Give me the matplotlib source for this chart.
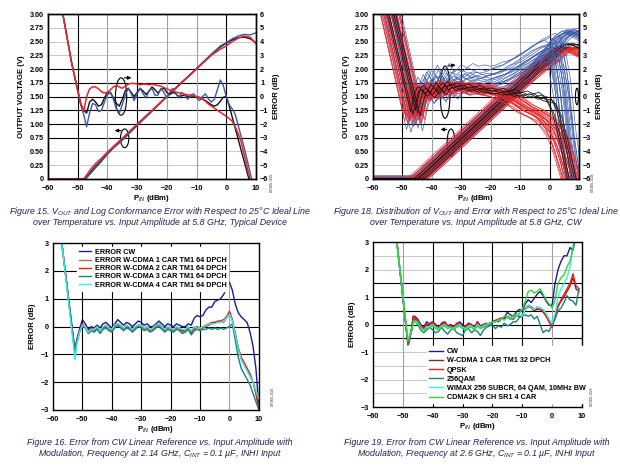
import numpy as np
import matplotlib
matplotlib.use('Agg')
import matplotlib.pyplot as plt
from matplotlib.patches import Ellipse

plt.rcParams['font.family'] = ['Liberation Sans', 'DejaVu Sans']
plt.rcParams['mathtext.fontset'] = 'custom'
plt.rcParams['mathtext.rm'] = 'Liberation Sans:bold'
plt.rcParams['mathtext.bf'] = 'Liberation Sans:bold'
plt.rcParams['mathtext.it'] = 'Liberation Sans:italic'

RED = '#e8262a'
BLUE = '#3c5aa8'
BLACK = '#111111'

# ---------------- Figure 15 data (5.8 GHz, typical device) ----------------
f15_err_x = [-55, -52, -49, -48, -47, -46, -45, -44, -43, -42,
             -41, -40, -39, -38, -37, -36, -35, -34, -33, -32,
             -31, -30, -29, -28, -27, -26, -25, -24, -23, -22,
             -21, -20, -19, -18, -17, -16, -15, -14, -13, -12,
             -11, -10, -9, -8, -7, -6, -5, -4, -3, -2,
             -1, 0, 1, 2, 3, 4, 5, 6, 7, 8,
             9]
f15_err_red = [6.0, 2.4, -0.5, -1.1, 0.0, 0.55, 0.7, 0.7, 0.55, 0.35,
               0.25, 0.3, 0.5, 0.7, 0.8, 0.7, 0.6, 0.75, 0.9, 0.95,
               0.95, 0.9, 0.85, 0.9, 0.9, 0.85, 0.9, 0.85, 0.8, 0.75,
               0.65, 0.55, 0.47, 0.4, 0.33, 0.27, 0.22, 0.17, 0.12, 0.08,
               0.04, 0.0, -0.05, -0.15, -0.35, -0.55, -0.7, -0.85, -1.0, -1.15,
               -1.3, -1.45, -1.6, -1.8, -2.2, -2.7, -3.3, -4.2, -5.1, -6.0,
               -7.0]
f15_err_black = [6.0, 2.4, -0.5, -1.0, -1.2, -0.4, -0.2, -0.4, -0.7, -0.6,
                 -0.1, 0.3, 0.3, -0.1, -0.5, -0.7, -0.2, 0.4, 0.6, 0.3,
                 0.0, 0.3, 0.6, 0.4, 0.15, 0.4, 0.7, 0.5, 0.25, 0.5,
                 0.6, 0.3, 0.15, 0.3, 0.2, 0.0, 0.05, 0.1, 0.0, -0.05,
                 0.0, 0.0, -0.1, -0.2, -0.3, -0.45, -0.6, -0.7, -0.6, -0.35,
                 -0.05, 0.0, -0.7, -1.5, -2.3, -3.1, -3.9, -4.7, -5.5, -6.3,
                 -7.2]
f15_err_blue = [6.0, 2.4, -0.6, -1.3, -2.2, -1.2, -0.5, -0.6, -1.1, -1.0,
                -0.4, 0.1, 0.3, -0.2, -0.9, -1.2, -0.6, 0.1, 0.6, 0.2,
                -0.3, 0.2, 0.6, 0.2, -0.1, 0.4, 0.6, 0.1, 0.1, 0.6,
                0.3, -0.1, 0.3, 0.6, 0.2, -0.1, 0.3, 0.1, -0.2, 0.1,
                0.2, -0.1, -0.3, 0.0, 0.2, -0.2, -0.4, -0.2, 0.5, 1.2,
                0.8, 0.0, -0.6, -0.9, -1.3, -2.1, -2.9, -3.7, -4.6, -5.5,
                -6.5]
f15_v_x = [-60, -48, -47, -46, -45, -44, -42, -40, -38, -35, -30, -25,
           -20, -15, -10, -5, -2, 0, 2, 4, 6, 8, 10]
f15_v_red = [0, 0, 0.07, 0.15, 0.22, 0.28, 0.38, 0.49, 0.59, 0.74, 1.0, 1.25,
             1.5, 1.75, 2.0, 2.25, 2.36, 2.42, 2.5, 2.56, 2.6, 2.58, 2.46]
f15_v_black = [0, 0, 0.04, 0.1, 0.17, 0.23, 0.34, 0.46, 0.57, 0.72, 0.98, 1.24,
               1.5, 1.76, 2.01, 2.27, 2.4, 2.47, 2.53, 2.57, 2.58, 2.55, 2.48]
f15_v_blue = [0, 0, 0.02, 0.08, 0.14, 0.2, 0.32, 0.45, 0.56, 0.7, 0.97, 1.23,
              1.49, 1.75, 2.0, 2.27, 2.42, 2.48, 2.55, 2.6, 2.63, 2.62, 2.66]

# ---------------- Figure 18 data (distribution, 5.8 GHz CW) ----------------
f18_err_x = [-55, -46, -45, -44, -43, -42, -41, -40, -39, -38, -37, -36,
             -35, -34, -32, -30, -28, -26, -24, -22, -20, -18, -16, -14,
             -12, -10, -8, -6, -4, -2, 0, 2, 4, 6, 8, 11]
f18_err_red = [6.8, -1.6, -0.6, 0.3, 0.6, 0.3, 0.0, 0.3, 0.7, 0.5, 0.2, 0.6,
               0.8, 0.5, 0.7, 0.6, 0.7, 0.5, 0.6, 0.5, 0.4, 0.3, 0.1, -0.1,
               -0.3, -0.6, -0.9, -1.1, -1.3, -1.6, -2.0, -2.6, -3.6, -5.0, -6.5, -8.0]
f18_err_blue = [6.8, -1.8, -0.9, 0.1, 0.6, 0.2, 0.5, 1.0, 0.6, 0.3, 0.8, 1.1,
                0.7, 0.5, 1.0, 0.8, 1.1, 0.9, 1.0, 0.9, 1.0, 1.2, 1.3, 1.5,
                1.8, 2.0, 2.3, 2.6, 2.9, 3.1, 3.3, 3.0, 0.5, -3.5, -6.5, -8.0]
f18_err_black = [6.8, -1.2, -0.2, 0.5, 0.6, 0.3, 0.1, 0.4, 0.8, 0.5, 0.3, 0.7,
                 0.9, 0.6, 0.8, 0.6, 0.7, 0.5, 0.6, 0.4, 0.4, 0.3, 0.4, 0.2,
                 0.3, 0.1, 0.2, 0.0, 0.1, -0.2, -0.3, -1.2, -2.8, -4.8, -6.8, -8.0]
f18_v_x = [-64, -45, -44, -42, -40, -35, -30, -25, -20, -15, -10, -5,
           0, 2, 4, 6, 8, 10, 14]
f18_v_red = [0, 0, 0.04, 0.13, 0.23, 0.48, 0.73, 0.98, 1.23, 1.48, 1.73, 1.95,
             2.15, 2.25, 2.33, 2.38, 2.38, 2.3, 2.2]
f18_v_blue = [0, 0, 0.04, 0.13, 0.23, 0.48, 0.73, 0.98, 1.23, 1.48, 1.73, 2.0,
              2.3, 2.45, 2.58, 2.65, 2.68, 2.62, 2.5]
f18_v_black = [0, 0, 0.04, 0.13, 0.23, 0.48, 0.73, 0.98, 1.23, 1.48, 1.73, 1.98,
               2.22, 2.32, 2.4, 2.45, 2.45, 2.4, 2.3]
# spread of the measured devices (shift in dBm, lift in dB)
red_dx = [-3.5, -3.2, -2.9, -2.6, -2.3, -2.0, -1.7, -1.4, -1.1, -0.8, -0.5, -0.2,
          0.1, 0.4, 0.7, 1.0, 1.3, 1.6, 1.9, 2.2, 2.5, 2.8, 3.1, 3.4]
red_dy = [0.3, -0.2, 0.1, 0.4, -0.3, 0.0, 0.2, -0.1, 0.3, -0.4, 0.1, -0.2,
          0.2, 0.0, -0.3, 0.25, -0.15, 0.35, -0.05, 0.15, -0.35, 0.05, 0.2, -0.1]
blue_dx = [-2.6, -2.3, -2.0, -1.7, -1.4, -1.1, -0.8, -0.5, -0.2, 0.1,
           0.4, 0.7, 1.0, 1.3, 1.6, 1.9, 2.2, 2.5, 2.8, 3.1]
blue_dy = [-0.6, 0.4, -0.3, 0.8, 0.0, -0.8, 0.5, 0.2, -0.4, 1.0,
           -0.2, 0.3, 0.6, -0.5, 0.1, 1.3, -0.1, 0.4, -0.7, 0.7]
black_dx = [-1.2, -0.4, 0.4, 1.2, 2.0]
black_dy = [0.1, -0.1, 0.2, 0.0, -0.2]

# ---------------- Figure 16 data (2.14 GHz modulation) ----------------
f16_x = [-57, -52.5, -52, -51, -50, -49, -48, -47, -46, -45,
         -44, -43, -42, -41, -40, -39, -38, -37, -36, -35,
         -34, -33, -32, -31, -30, -29, -28, -27, -26, -25,
         -24, -23, -22, -21, -20, -19, -18, -17, -16, -15,
         -14, -13, -12, -11, -10, -9, -8, -7, -6, -5,
         -4, -3, -2, -1, 0, 1, 2, 3, 4, 5,
         6, 7, 8, 9, 10]
f16_cw = [3.0, -0.9, -0.5, -0.1, 0.25, 0.1, -0.1, 0.0, -0.05, 0.05,
          -0.05, 0.1, 0.15, 0.05, -0.05, 0.1, 0.25, 0.15, 0.05, 0.15,
          0.1, 0.0, 0.1, 0.2, 0.15, 0.05, 0.1, 0.0, 0.0, 0.1,
          0.2, 0.1, 0.0, 0.1, 0.05, 0.0, 0.1, 0.05, 0.0, 0.0,
          0.1, 0.05, 0.3, 0.4, 0.35, 0.4, 0.6, 0.7, 0.7, 0.9,
          0.95, 1.0, 1.15, 1.35, 1.6, 1.3, 0.8, 0.5, 0.35, 0.25,
          0.15, -0.2, -0.7, -1.5, -2.9]
f16_w1 = [3.0, -1.0, -0.6, -0.2, 0.05, 0.0, -0.2, -0.1, -0.15, -0.05,
          -0.2, -0.05, 0.0, -0.1, -0.15, 0.0, 0.1, 0.0, -0.1, 0.0,
          -0.05, -0.15, -0.05, 0.05, 0.0, -0.1, -0.05, -0.15, -0.1, 0.0,
          0.05, -0.05, -0.15, -0.05, -0.1, -0.15, -0.05, -0.1, -0.2, -0.15,
          -0.05, -0.25, -0.1, -0.05, -0.1, -0.05, 0.0, 0.05, 0.1, 0.15,
          0.15, 0.2, 0.15, 0.3, 0.5, 0.2, -0.3, -0.8, -1.15, -1.35,
          -1.55, -1.75, -2.0, -2.4, -2.95]
f16_w2 = [3.0, -1.0, -0.6, -0.15, 0.1, 0.0, -0.15, -0.05, -0.1, 0.0,
          -0.15, -0.05, 0.05, -0.05, -0.1, 0.05, 0.1, 0.05, -0.05, 0.05,
          -0.05, -0.1, 0.0, 0.05, 0.05, -0.05, 0.0, -0.1, -0.05, 0.05,
          0.1, 0.0, -0.1, 0.0, -0.05, -0.1, 0.0, -0.05, -0.15, -0.1,
          0.0, -0.2, -0.05, 0.0, -0.05, 0.0, 0.05, 0.1, 0.15, 0.15,
          0.2, 0.2, 0.25, 0.35, 0.55, 0.25, -0.25, -0.75, -1.1, -1.3,
          -1.5, -1.7, -2.0, -2.4, -3.0]
f16_w3 = [3.0, -1.0, -0.6, -0.2, 0.0, -0.05, -0.25, -0.15, -0.2, -0.1,
          -0.25, -0.1, -0.05, -0.15, -0.2, -0.05, 0.05, -0.05, -0.15, -0.05,
          -0.1, -0.2, -0.1, 0.0, -0.05, -0.15, -0.1, -0.2, -0.15, -0.05,
          0.0, -0.1, -0.2, -0.1, -0.15, -0.2, -0.1, -0.15, -0.25, -0.2,
          -0.1, -0.3, -0.15, -0.1, -0.15, -0.1, -0.1, -0.05, -0.1, -0.05,
          -0.1, -0.05, -0.1, -0.05, 0.0, 0.1, -0.5, -1.1, -1.5, -1.7,
          -1.9, -2.1, -2.4, -2.7, -3.0]
f16_w4 = [3.0, -1.2, -0.7, -0.2, 0.05, 0.0, -0.2, -0.1, -0.1, 0.0,
          -0.15, 0.0, 0.05, -0.05, -0.1, 0.05, 0.1, 0.05, -0.05, 0.05,
          0.0, -0.1, 0.0, 0.05, 0.05, -0.05, 0.0, -0.1, -0.05, 0.05,
          0.1, 0.0, -0.1, 0.0, -0.05, -0.1, 0.0, -0.05, -0.1, -0.1,
          0.0, -0.15, 0.0, -0.05, -0.05, 0.0, 0.05, 0.1, 0.1, 0.1,
          0.15, 0.15, 0.2, 0.3, 0.45, 0.2, -0.3, -0.8, -1.2, -1.4,
          -1.6, -1.8, -2.0, -2.3, -2.6]

# ---------------- Figure 19 data (2.6 GHz modulation) ----------------
f19_x = [-52, -48.3, -48, -47, -46.5, -46, -45, -44, -43, -42,
         -41, -40, -39, -38, -37, -36, -35, -34, -33, -32,
         -31, -30, -29, -28, -27, -26, -25, -24, -23, -22,
         -21, -20, -19, -18, -17, -16, -15, -14, -13, -12,
         -11, -10, -9, -8, -7, -6, -5, -4, -3, -2,
         -1, 0, 1, 2, 3, 4, 5, 6, 7, 8,
         9]
f19_cw = [3.0, -0.65, -0.6, -0.1, 0.3, 0.3, 0.2, 0.0, -0.1, 0.1,
          0.0, 0.1, 0.0, -0.1, 0.05, 0.1, -0.05, 0.0, -0.1, 0.0,
          0.1, 0.0, -0.1, 0.05, 0.0, -0.1, 0.1, -0.05, 0.0, 0.0,
          0.05, 0.1, 0.15, 0.1, 0.2, 0.25, 0.45, 0.35, 0.3, 0.45,
          0.55, 0.5, 0.75, 0.9, 0.8, 0.95, 1.1, 1.2, 1.05, 0.85,
          0.7, 0.7, 1.5, 2.0, 2.3, 2.5, 2.5, 2.8, 2.7, 3.2,
          3.5]
f19_wcdma = [3.0, -0.7, -0.65, -0.15, 0.25, 0.2, 0.1, -0.05, -0.15, 0.0,
             0.0, 0.05, -0.05, -0.15, 0.0, 0.05, -0.1, -0.05, -0.15, 0.0,
             0.0, -0.1, -0.1, 0.0, -0.05, -0.15, 0.05, -0.1, -0.05, 0.0,
             0.0, 0.1, 0.1, 0.15, 0.2, 0.2, 0.25, 0.2, 0.2, 0.3,
             0.3, 0.3, 0.55, 0.65, 0.6, 0.5, 0.55, 0.55, 0.45, 0.3,
             0.1, -0.05, 0.3, 0.65, 0.85, 1.0, 1.2, 1.4, 1.7, 1.3,
             1.2]
f19_qpsk = [3.0, -0.75, -0.7, -0.1, 0.3, 0.25, 0.15, -0.05, -0.15, 0.0,
            0.05, 0.1, -0.05, -0.1, 0.0, 0.1, -0.05, -0.05, -0.1, 0.05,
            0.05, -0.1, -0.05, 0.05, -0.05, -0.1, 0.1, -0.1, 0.0, 0.05,
            0.0, 0.1, 0.15, 0.2, 0.25, 0.2, 0.3, 0.25, 0.2, 0.35,
            0.3, 0.35, 0.6, 0.7, 0.65, 0.55, 0.6, 0.6, 0.5, 0.35,
            0.1, -0.1, 0.3, 0.7, 0.9, 1.1, 1.3, 1.5, 1.85, 1.4,
            1.3]
f19_qam = [3.0, -0.7, -0.6, -0.2, 0.1, 0.1, 0.0, -0.2, -0.3, -0.2,
           -0.1, -0.2, -0.3, -0.25, -0.1, -0.25, -0.35, -0.2, -0.1, -0.3,
           -0.35, -0.4, -0.2, -0.15, -0.3, -0.2, -0.25, -0.4, -0.2, -0.1,
           -0.05, 0.0, -0.15, -0.05, -0.1, 0.05, -0.05, 0.0, 0.1, 0.1,
           0.25, 0.3, 0.35, 0.3, 0.35, 0.2, 0.3, 0.0, -0.3, -0.2,
           -0.25, 0.0, 0.2, 0.5, 0.6, 0.8, 1.05, 0.9, 0.85, 0.7,
           1.3]
f19_wimax = [3.0, -0.55, -0.5, -0.2, 0.05, 0.1, 0.05, -0.1, -0.2, -0.1,
             -0.05, 0.0, -0.1, -0.15, -0.05, 0.0, -0.1, -0.1, -0.15, -0.05,
             0.0, -0.1, -0.15, -0.05, -0.05, -0.15, 0.0, -0.1, -0.05, 0.0,
             0.05, 0.1, 0.1, 0.15, 0.2, 0.15, 0.25, 0.2, 0.25, 0.3,
             0.35, 0.3, 0.55, 0.7, 0.6, 0.55, 0.65, 0.6, 0.55, 0.4,
             0.2, 0.05, 0.4, 1.0, 1.3, 1.5, 1.7, 2.1, 2.8, 3.5,
             3.5]
f19_cdma = [3.0, -0.6, -0.5, -0.2, 0.1, 0.15, 0.1, -0.1, -0.2, -0.15,
            -0.1, -0.05, -0.15, -0.2, -0.1, -0.05, -0.15, -0.1, -0.2, -0.1,
            -0.05, -0.15, -0.2, -0.1, -0.1, -0.2, -0.05, -0.15, -0.1, -0.05,
            0.0, 0.1, 0.1, 0.15, 0.2, 0.3, 0.3, 0.2, 0.35, 0.35,
            0.4, 0.55, 0.85, 1.2, 1.25, 1.15, 1.2, 1.3, 1.1, 0.9,
            0.75, 0.6, 0.9, 1.5, 1.7, 1.8, 2.1, 2.3, 2.8, 3.3,
            3.5]

x_ticks = [-60, -50, -40, -30, -20, -10, 0, 10]
x_labels = ['−60', '−50', '−40', '−30', '−20', '−10', '0', '10']
v_ticks = [0, 0.25, 0.5, 0.75, 1.0, 1.25, 1.5, 1.75, 2.0, 2.25, 2.5, 2.75, 3.0]
v_labels = ['0', '0.25', '0.50', '0.75', '1.00', '1.25', '1.50', '1.75',
            '2.00', '2.25', '2.50', '2.75', '3.00']
e6_ticks = [-6, -5, -4, -3, -2, -1, 0, 1, 2, 3, 4, 5, 6]
e6_labels = ['−6', '−5', '−4', '−3', '−2', '−1', '0', '1', '2', '3', '4', '5', '6']
e3_ticks = [-3, -2, -1, 0, 1, 2, 3]
e3_labels = ['−3', '−2', '−1', '0', '1', '2', '3']

TS = 5.2  # tick label size
LS = 5.6  # axis label size


def frame(ax):
    for s in ax.spines.values():
        s.set_linewidth(1.0)
        s.set_color('black')
    ax.tick_params(axis='y', length=0, pad=3)
    ax.tick_params(axis='x', length=0, pad=4)


def ticks(ax, xt, xl, yt, yl):
    ax.set_xticks(xt)
    ax.set_xticklabels(xl, fontsize=TS, fontweight='bold')
    ax.set_yticks(yt)
    ax.set_yticklabels(yl, fontsize=TS, fontweight='bold')


def grid_lines(ax, hdark, hlight, vdark, vlight):
    for y in hlight:
        ax.axhline(y, color='#c8c8c8', lw=0.7, zorder=0)
    for y in hdark:
        ax.axhline(y, color='black', lw=0.8, zorder=0)
    for x in vlight:
        ax.axvline(x, color='#a0a0a0', lw=0.8, zorder=0)
    for x in vdark:
        ax.axvline(x, color='black', lw=0.8, zorder=0)


def vout_axes(rect):
    ax = fig.add_axes(rect)
    ax.set_xlim(-60, 10)
    ax.set_ylim(0, 3)
    ticks(ax, x_ticks, x_labels, v_ticks, v_labels)
    grid_lines(ax, [0.75, 1.0, 1.25, 1.5, 1.75, 2.0], [0.25, 0.5, 2.25, 2.5, 2.75],
               [-50, -30, 0], [-40, -20, -10])
    ax.set_xlabel('P$_{IN}$ (dBm)', fontsize=LS, fontweight='bold', labelpad=1)
    ax.set_ylabel('OUTPUT VOLTAGE (V)', fontsize=LS, fontweight='bold', labelpad=3)
    frame(ax)
    ax2 = ax.twinx()
    ax2.set_ylim(-6, 6)
    ax2.set_xlim(-60, 10)
    ax2.set_yticks(e6_ticks)
    ax2.set_yticklabels(e6_labels, fontsize=TS, fontweight='bold')
    ax2.set_ylabel('ERROR (dB)', fontsize=LS, fontweight='bold', labelpad=3)
    frame(ax2)
    return ax, ax2


def err_axes(rect):
    ax = fig.add_axes(rect)
    ax.set_xlim(-60, 10)
    ax.set_ylim(-3, 3)
    ticks(ax, x_ticks, x_labels, e3_ticks, e3_labels)
    ax.set_xlabel('P$_{IN}$ (dBm)', fontsize=LS, fontweight='bold', labelpad=1)
    ax.set_ylabel('ERROR (dB)', fontsize=LS, fontweight='bold', labelpad=3)
    frame(ax)
    return ax


def arrow(ax, x0, y0, x1, y1):
    ax.annotate('', xy=(x1, y1), xytext=(x0, y0),
                arrowprops=dict(arrowstyle='-|>', color='black', lw=0.8,
                                mutation_scale=5))


def caption(x, y, l1, l2):
    kw = dict(ha='center', va='center', fontsize=6.4, style='italic',
              color='#232355', family=['Liberation Sans Narrow', 'Liberation Sans'])
    fig.text(x, y, l1, **kw)
    fig.text(x, y - 0.024, l2, **kw)


def code(x, y, s):
    # small drawing number printed sideways at the lower right of each chart
    fig.text(x, y, s, rotation=90, fontsize=3.0, ha='center', va='top',
             color='#333333')


fig = plt.figure(figsize=(6.2, 4.66), dpi=100)

# ---- Figure 15 ----
ax, ax2 = vout_axes([0.0774, 0.6159, 0.3355, 0.354])
ax.plot(f15_v_x, f15_v_black, color=BLACK, lw=1.0)
ax.plot(f15_v_x, f15_v_blue, color=BLUE, lw=1.0)
ax.plot(f15_v_x, f15_v_red, color=RED, lw=1.1)
ax2.plot(f15_err_x, f15_err_black, color=BLACK, lw=1.0)
ax2.plot(f15_err_x, f15_err_blue, color=BLUE, lw=1.0)
ax2.plot(f15_err_x, f15_err_red, color=RED, lw=1.1)
ax.add_patch(Ellipse((-35.4, 1.5), 3.8, 0.68, fill=False, lw=0.8, color='black'))
arrow(ax, -35.2, 1.84, -31.0, 1.84)
ax.add_patch(Ellipse((-34.2, 0.74), 2.8, 0.34, fill=False, lw=0.8, color='black'))
arrow(ax, -34.5, 0.88, -38.5, 0.88)
caption(0.258, 0.546,
        r'Figure 15. $\mathit{V_{OUT}}$ and Log Conformance Error with Respect to 25°C Ideal Line',
        'over Temperature vs. Input Amplitude at 5.8 GHz, Typical Device')
code(0.438, 0.63, '07065-015')

# ---- Figure 18 ----
ax, ax2 = vout_axes([0.6016, 0.6159, 0.3323, 0.354])
fx = np.array(f18_v_x)
ex = np.array(f18_err_x)
for dx, dy in zip(blue_dx, blue_dy):
    ax.plot(fx + dx, np.array(f18_v_blue) + dy * 0.05, color=BLUE, lw=0.45)
for dx, dy in zip(red_dx, red_dy):
    ax.plot(fx + dx, np.array(f18_v_red) + dy * 0.05, color=RED, lw=0.45)
for dx, dy in zip(blue_dx, blue_dy):
    ax2.plot(ex + dx, np.array(f18_err_blue) + dy, color=BLUE, lw=0.45)
for dx, dy in zip(red_dx, red_dy):
    ax2.plot(ex + dx, np.array(f18_err_red) + dy, color=RED, lw=0.45)
for dx, dy in zip(black_dx, black_dy):
    ax.plot(fx + dx, np.array(f18_v_black) + dy * 0.05, color=BLACK, lw=0.55)
    ax2.plot(ex + dx, np.array(f18_err_black) + dy, color=BLACK, lw=0.55)
ax.add_patch(Ellipse((-35.5, 1.58), 3.4, 0.95, fill=False, lw=0.8, color='black'))
arrow(ax, -35.3, 2.05, -31.0, 2.08)
ax.add_patch(Ellipse((-33.5, 0.66), 2.6, 0.5, fill=False, lw=0.8, color='black'))
arrow(ax, -34.0, 0.9, -38.0, 0.9)
ax.add_patch(Ellipse((9.3, 1.5), 1.0, 0.3, fill=False, lw=0.8, color='black'))
caption(0.768, 0.546,
        r'Figure 18. Distribution of $\mathit{V_{OUT}}$ and Error with Respect to 25°C Ideal Line',
        'over Temperature vs. Input Amplitude at 5.8 GHz, CW')
code(0.957, 0.63, '07065-018')

# ---- Figure 16 ----
ax = err_axes([0.0855, 0.1202, 0.332, 0.358])
grid_lines(ax, [-2, -1, 0, 1, 2], [], [-50, -40, -30, -20, -10], [0])
ax.plot(f16_x, f16_cw, color='#1c1c8c', lw=1.0, label='ERROR CW')
ax.plot(f16_x, f16_w1, color='#b86a4a', lw=1.0, label='ERROR W-CDMA 1 CAR TM1 64 DPCH')
ax.plot(f16_x, f16_w2, color='#ee1c1c', lw=1.0, label='ERROR W-CDMA 2 CAR TM1 64 DPCH')
ax.plot(f16_x, f16_w3, color='#168478', lw=1.0, label='ERROR W-CDMA 3 CAR TM1 64 DPCH')
ax.plot(f16_x, f16_w4, color='#33f0f0', lw=1.0, label='ERROR W-CDMA 4 CAR TM1 64 DPCH')
leg = ax.legend(loc='upper left', bbox_to_anchor=(0.1, 1.0),
                frameon=True, fancybox=False, edgecolor='white', framealpha=1,
                handlelength=1.6, handletextpad=0.5, labelspacing=0.15,
                borderpad=0.3, prop={'weight': 'bold', 'size': 5.2})
caption(0.258, 0.051,
        'Figure 16. Error from CW Linear Reference vs. Input Amplitude with',
        r'Modulation, Frequency at 2.14 GHz, $\mathit{C_{INT}}$ = 0.1 µF, INHI Input')
code(0.44, 0.17, '07065-016')

# ---- Figure 19 ----
ax = err_axes([0.6016, 0.1266, 0.337, 0.354])
grid_lines(ax, [-0.5, 0, 0.5, 1.0, 1.5], [-2.5, -2, -1.5, -1, 2, 2.5],
           [-40, -30, -20, -10], [-50, 0])
ax.plot(f19_x, f19_cw, color='#1c1c8c', lw=1.0, label='CW')
ax.plot(f19_x, f19_wcdma, color='#8a2a10', lw=1.0, label='W-CDMA 1 CAR TM1 32 DPCH')
ax.plot(f19_x, f19_qpsk, color='#ee1c1c', lw=1.0, label='QPSK')
ax.plot(f19_x, f19_qam, color='#1a8080', lw=1.0, label='256QAM')
ax.plot(f19_x, f19_wimax, color='#33f0f0', lw=1.0, label='WIMAX 256 SUBCR, 64 QAM, 10MHz BW')
ax.plot(f19_x, f19_cdma, color='#33d633', lw=1.0, label='CDMA2K 9 CH SR1 4 CAR')
leg = ax.legend(loc='lower left', bbox_to_anchor=(0.24, 0.0),
                frameon=True, fancybox=False, edgecolor='white', framealpha=1,
                handlelength=2.0, handletextpad=0.5, labelspacing=0.3,
                borderpad=0.3, prop={'weight': 'bold', 'size': 5.2})
caption(0.769, 0.051,
        'Figure 19. Error from CW Linear Reference vs. Input Amplitude with',
        r'Modulation, Frequency at 2.6 GHz, $\mathit{C_{INT}}$ = 0.1 µF, INHI Input')
code(0.955, 0.17, '07065-019')

fig.savefig('out.png', dpi=100)
